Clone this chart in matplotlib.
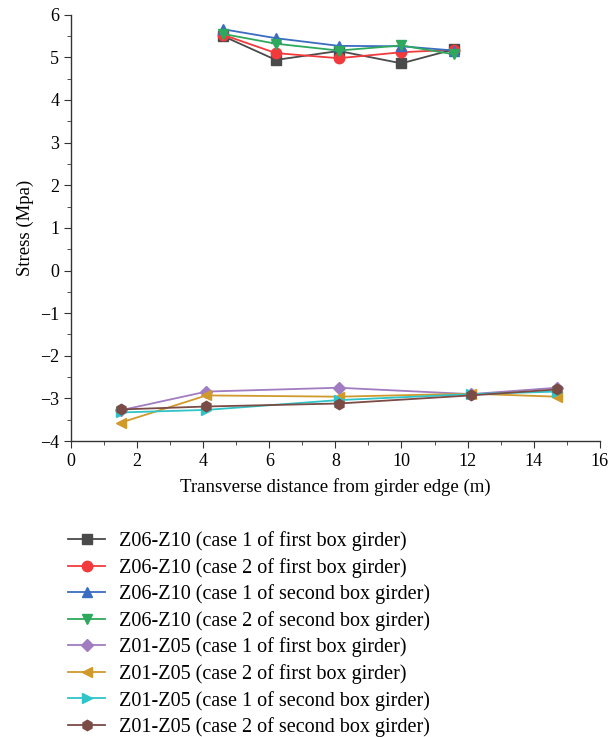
import matplotlib
matplotlib.use("Agg")
import matplotlib.pyplot as plt
from matplotlib.ticker import MultipleLocator, FuncFormatter

plt.rcParams['font.family'] = ['Liberation Serif', 'DejaVu Serif']

x_upper = [4.6, 6.2, 8.1, 10.0, 11.6]
x_lower = [1.5, 4.1, 8.1, 12.1, 14.7]

z06_c1_first = [5.50, 4.94, 5.15, 4.86, 5.19]
z06_c2_first = [5.53, 5.10, 4.98, 5.12, 5.18]
z06_c1_second = [5.66, 5.45, 5.27, 5.26, 5.16]
z06_c2_second = [5.55, 5.32, 5.16, 5.28, 5.07]
z01_c1_first = [-3.28, -2.84, -2.75, -2.90, -2.75]
z01_c2_first = [-3.57, -2.93, -2.96, -2.89, -2.96]
z01_c1_second = [-3.33, -3.27, -3.04, -2.90, -2.84]
z01_c2_second = [-3.26, -3.19, -3.12, -2.93, -2.79]

labels = [
    "Z06-Z10 (case 1 of first box girder)",
    "Z06-Z10 (case 2 of first box girder)",
    "Z06-Z10 (case 1 of second box girder)",
    "Z06-Z10 (case 2 of second box girder)",
    "Z01-Z05 (case 1 of first box girder)",
    "Z01-Z05 (case 2 of first box girder)",
    "Z01-Z05 (case 1 of second box girder)",
    "Z01-Z05 (case 2 of second box girder)",
]

series = [
    (x_upper, z06_c1_first, '#4a4a4a', 's'),
    (x_upper, z06_c2_first, '#f23a3c', 'o'),
    (x_upper, z06_c1_second, '#3a6cc2', '^'),
    (x_upper, z06_c2_second, '#2ea85c', 'v'),
    (x_lower, z01_c1_first, '#a17cc0', 'D'),
    (x_lower, z01_c2_first, '#cf9a2a', '<'),
    (x_lower, z01_c1_second, '#2fc4c8', '>'),
    (x_lower, z01_c2_second, '#7b4b46', 'h'),
]

fig = plt.figure(figsize=(6.12, 7.37), dpi=100)
ax = fig.add_axes([0.116, 0.4016, 0.864, 0.5784])

handles = []
for (xs, ys, c, m), lab in zip(series, labels):
    ms = 6 if m == 'D' else 7.5
    h, = ax.plot(xs, ys, color=c, marker=m, markersize=ms, linewidth=1.3,
                 markeredgecolor=c, label=lab)
    handles.append(h)

ax.set_xlim(0, 16)
ax.set_ylim(-4, 6)
ax.xaxis.set_major_locator(MultipleLocator(2))
ax.xaxis.set_minor_locator(MultipleLocator(1))
ax.yaxis.set_major_locator(MultipleLocator(1))
ax.yaxis.set_minor_locator(MultipleLocator(0.5))
ax.yaxis.set_major_formatter(FuncFormatter(lambda v, p: f"{int(round(v))}".replace('-', '\u2212')))
ax.tick_params(which='both', direction='out', labelsize=13, color='#333333')
ax.tick_params(which='major', length=5)
ax.tick_params(which='minor', length=3)
ax.spines['top'].set_visible(False)
ax.spines['right'].set_visible(False)
for s in ['left', 'bottom']:
    ax.spines[s].set_color('#333333')
    ax.spines[s].set_linewidth(1.0)

ax.set_xlabel("Transverse distance from girder edge (m)", fontsize=13.5, labelpad=6)
ax.set_ylabel("Stress (Mpa)", fontsize=13.5)

fig.legend(handles=handles, loc='upper left', bbox_to_anchor=(0.098, 0.29),
           frameon=False, fontsize=14.5, handlelength=1.85, labelspacing=0.33,
           handletextpad=0.7, borderaxespad=0, borderpad=0.4)

fig.savefig("out.png", dpi=100)
